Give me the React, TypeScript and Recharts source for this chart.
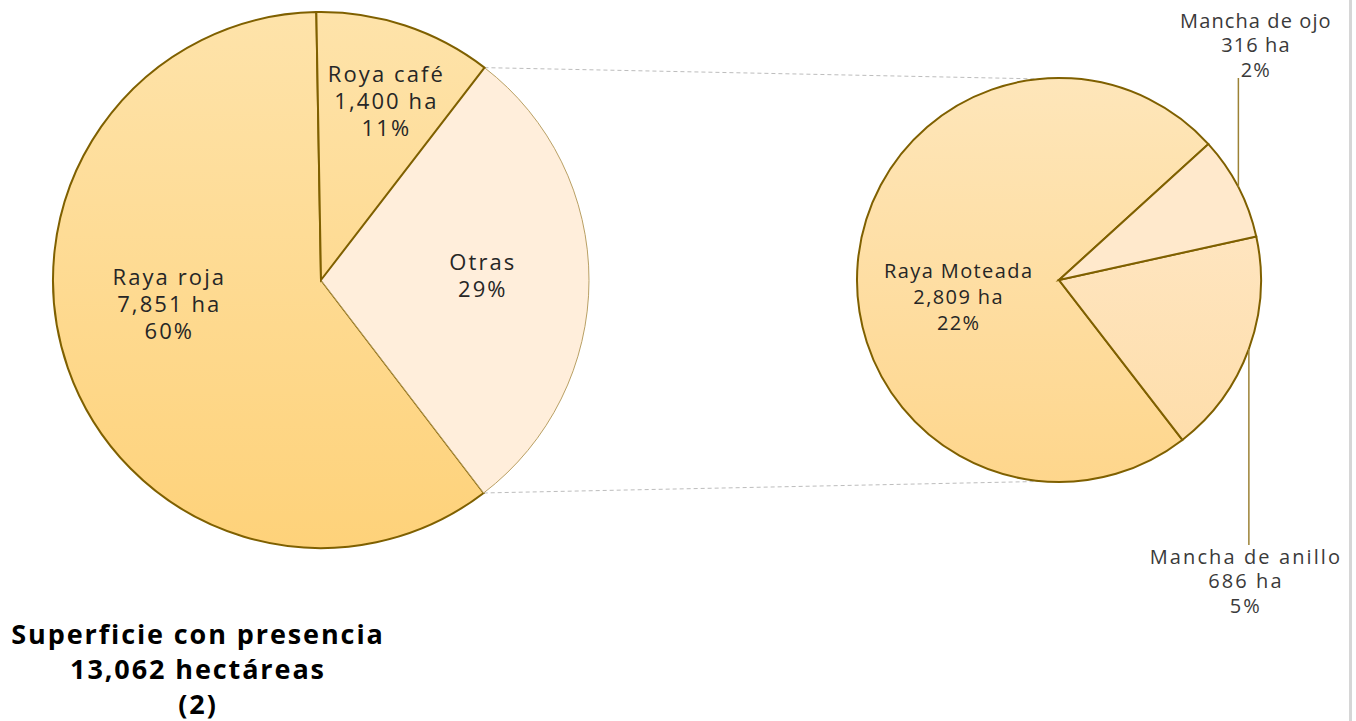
import { PieChart, Pie, Cell } from "recharts";

// main pie: superficie por enfermedad
const mainNames = ["Raya roja", "Otras", "Roya café"];
const mainValues = [7851, 3811, 1400];

// breakdown of "Otras"
const detailNames = ["Raya Moteada", "Mancha de anillo", "Mancha de ojo"];
const detailValues = [2809, 686, 316];

const titleLines = ["Superficie con presencia", "13,062 hectáreas", "(2)"];

const total = mainValues.reduce((a, b) => a + b, 0);

const mainData = mainNames.map((name, i) => ({ name, value: mainValues[i] }));
const detailData = detailNames.map((name, i) => ({ name, value: detailValues[i] }));

const FONT = "'Open Sans', 'Noto Sans', sans-serif";
const STROKE = "#7F6000";
const RAD = Math.PI / 180;

const LEFT = { cx: 321, cy: 280, r: 268, start: 91 };
const RIGHT = { cx: 1059, cy: 280, r: 202, start: 42.3 };

const mainFills = ["url(#gMain)", "#FFEEDB", "url(#gMain)"];
const mainStrokes = [STROKE, "#B9A064", STROKE];
const mainStrokeW = [2, 1, 2];
const detailFills = ["url(#gDetail)", "url(#gDetail2)", "#FFE9CC"];

// label placement, as fraction of the radius from the pie centre
const labelOffsets: Record<string, [number, number]> = {
  "Raya roja": [-0.57, 0.085],
  "Roya café": [0.24, -0.67],
  Otras: [0.6, -0.02],
  "Raya Moteada": [-0.5, 0.084],
};

const pct = (v: number) => `${Math.round((v / total) * 100)}%`;
const fmt = (v: number) => v.toLocaleString("en-US");

function InsideLabel(props: any) {
  const { cx, cy, outerRadius, name, value } = props;
  const off = labelOffsets[name];
  if (!off) return null;
  const big = outerRadius > 230;
  const fs = big ? 22 : 20;
  const ls = big ? 2.1 : 1.4;
  const gap = big ? 27 : 26;
  const x = cx + off[0] * outerRadius + ls / 2;
  const y = cy + off[1] * outerRadius;
  const lines = name === "Otras" ? [name, pct(value)] : [name, `${fmt(value)} ha`, pct(value)];
  const y0 = y - ((lines.length - 1) * gap) / 2;
  return (
    <text x={x} y={y0} textAnchor="middle" fontFamily={FONT} fontSize={fs} letterSpacing={ls} fill="#262626">
      {lines.map((l, i) => (
        <tspan key={i} x={x} y={y0 + i * gap} dominantBaseline="central">
          {l}
        </tspan>
      ))}
    </text>
  );
}

function DetailLabel(props: any) {
  const { cx, cy, outerRadius, midAngle, name, value } = props;
  if (labelOffsets[name]) return <InsideLabel {...props} />;
  const ex = cx + outerRadius * Math.cos(midAngle * RAD);
  const ey = cy - outerRadius * Math.sin(midAngle * RAD);
  const up = ey < cy;
  const endY = up ? cy - outerRadius : cy + outerRadius + 63;
  const lines = [name, `${fmt(value)} ha`, pct(value)];
  const gap = 24.5;
  const ls = up ? 1.1 : 2.1;
  const tx = (up ? ex + 17 : ex - 4) + ls / 2;
  const firstY = up ? endY - 9 - 2 * gap : endY + 11;
  return (
    <g>
      <line x1={ex} y1={ey} x2={ex} y2={endY} stroke="#9C8235" strokeWidth={1.5} />
      <text x={tx} y={firstY} textAnchor="middle" fontFamily={FONT} fontSize={20} letterSpacing={ls} fill="#3A3A3A">
        {lines.map((l, i) => (
          <tspan key={i} x={tx} y={firstY + i * gap} dominantBaseline="central">
            {l}
          </tspan>
        ))}
      </text>
    </g>
  );
}

function Connectors() {
  // edges of the "Otras" slice on the main pie
  const a1 = LEFT.start + (mainValues[0] / total) * 360;
  const a2 = a1 + (mainValues[1] / total) * 360;
  const p = (c: typeof LEFT, a: number) => [c.cx + c.r * Math.cos(a * RAD), c.cy - c.r * Math.sin(a * RAD)];
  const [x1, y1] = p(LEFT, a2);
  const [x2, y2] = p(LEFT, a1);
  const [x3, y3] = p(RIGHT, 95.5);
  const [x4, y4] = p(RIGHT, 265.5);
  return (
    <g>
      <line x1={x1} y1={y1} x2={x3} y2={y3} stroke="#BDBDBD" strokeWidth={1} strokeDasharray="4 3" />
      <line x1={x2} y1={y2} x2={x4} y2={y4} stroke="#BDBDBD" strokeWidth={1} strokeDasharray="4 3" />
    </g>
  );
}

export default function App() {
  return (
    <div style={{ position: "absolute", left: 0, top: 0, width: 1356, height: 721, background: "#fff", overflow: "hidden" }}>
      <PieChart width={1356} height={721} margin={{ top: 0, right: 0, bottom: 0, left: 0 }}>
        <defs>
          <linearGradient id="gMain" x1="0" y1={LEFT.cy - LEFT.r} x2="0" y2={LEFT.cy + LEFT.r} gradientUnits="userSpaceOnUse">
            <stop offset="0%" stopColor="#FEE3AA" />
            <stop offset="100%" stopColor="#FED27A" />
          </linearGradient>
          <linearGradient id="gDetail" x1="0" y1={RIGHT.cy - RIGHT.r} x2="0" y2={RIGHT.cy + RIGHT.r} gradientUnits="userSpaceOnUse">
            <stop offset="0%" stopColor="#FEE6BA" />
            <stop offset="100%" stopColor="#FED68C" />
          </linearGradient>
          <linearGradient id="gDetail2" x1="0" y1={RIGHT.cy - RIGHT.r} x2="0" y2={RIGHT.cy + RIGHT.r} gradientUnits="userSpaceOnUse">
            <stop offset="0%" stopColor="#FFEBD0" />
            <stop offset="100%" stopColor="#FEDCA6" />
          </linearGradient>
        </defs>
        <Connectors />
        <Pie
          data={mainData}
          dataKey="value"
          nameKey="name"
          cx={LEFT.cx}
          cy={LEFT.cy}
          outerRadius={LEFT.r}
          startAngle={LEFT.start}
          endAngle={LEFT.start + 360}
          isAnimationActive={false}
          label={InsideLabel}
          labelLine={false}
        >
          {mainData.map((d, i) => (
            <Cell key={d.name} fill={mainFills[i]} stroke={mainStrokes[i]} strokeWidth={mainStrokeW[i]} />
          ))}
        </Pie>
        <Pie
          data={detailData}
          dataKey="value"
          nameKey="name"
          cx={RIGHT.cx}
          cy={RIGHT.cy}
          outerRadius={RIGHT.r}
          startAngle={RIGHT.start}
          endAngle={RIGHT.start + 360}
          isAnimationActive={false}
          label={DetailLabel}
          labelLine={false}
        >
          {detailData.map((d, i) => (
            <Cell key={d.name} fill={detailFills[i]} stroke={STROKE} strokeWidth={2} />
          ))}
        </Pie>
        <text x={198} y={633} textAnchor="middle" fontFamily={FONT} fontSize={27} fontWeight={700} letterSpacing={1.9} fill="#000">
          {titleLines.map((l, i) => (
            <tspan key={i} x={198} y={633 + i * 35} dominantBaseline="central">
              {l}
            </tspan>
          ))}
        </text>
      </PieChart>
      <div style={{ position: "absolute", left: 1349, top: 0, width: 3, height: 721, background: "#D6D6D6" }} />
    </div>
  );
}
